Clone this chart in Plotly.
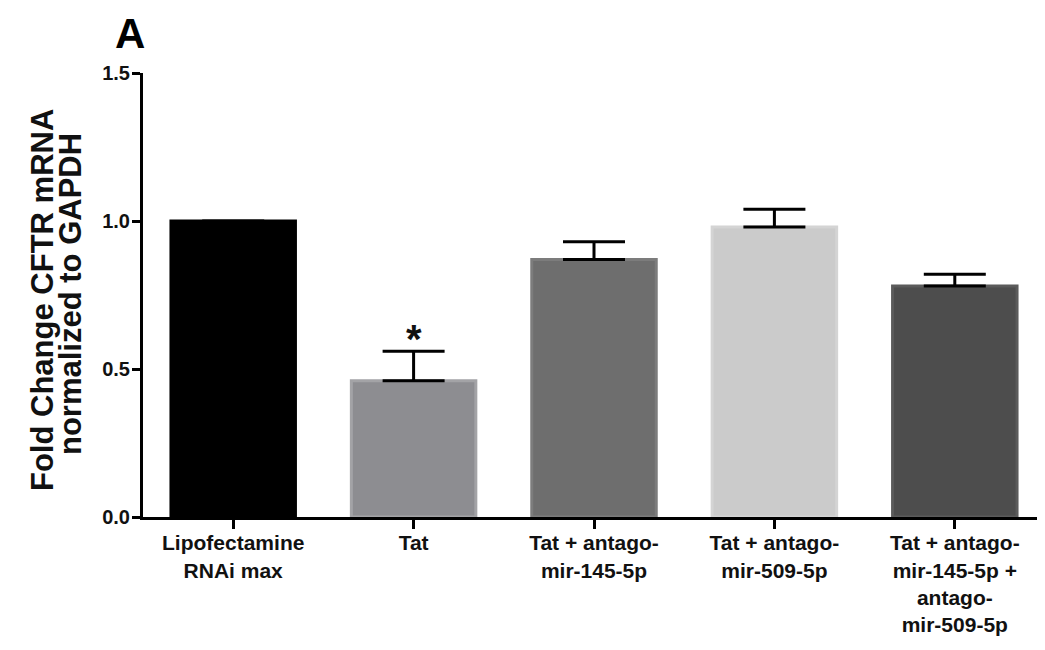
import plotly.graph_objects as go

categories = ["Lipofectamine<br>RNAi max", "Tat", "Tat + antago-<br>mir-145-5p",
              "Tat + antago-<br>mir-509-5p", "Tat + antago-<br>mir-145-5p +<br>antago-<br>mir-509-5p"]
values = [1.00, 0.46, 0.87, 0.98, 0.78]
errors = [0.0, 0.10, 0.06, 0.06, 0.04]
fill_colors = ["#000000", "#8d8d91", "#6e6e6e", "#cbcbcb", "#4d4d4d"]
edge_colors = ["#000000", "#a3a3a6", "#7c7c7c", "#d4d4d4", "#5b5b5b"]
y_ticks = [0, 0.5, 1.0, 1.5]
y_tick_labels = ["0.0", "0.5", "1.0", "1.5"]
y_title_lines = ["Fold Change CFTR mRNA", "normalized to GAPDH"]
star_label = "*"
star_index = 1
star_y = 0.60
panel_label = "A"

# page has an 8px body margin; figure is sized to fit the 1045x650 window
OFF = 8
W, H = 1045 - OFF, 650 - OFF
L, R, T, B = 143 - OFF, 0, 73 - OFF, 133
pw = W - L - R
ph = H - T - B

fig = go.Figure()
fig.add_trace(go.Bar(
    x=list(range(len(categories))), y=values, width=0.69,
    marker=dict(color=fill_colors, line=dict(color=edge_colors, width=3)),
    error_y=dict(type="data", symmetric=False, array=errors, arrayminus=[0] * len(errors),
                 color="#000000", thickness=3, width=31, visible=True),
    showlegend=False,
))

bold = "Liberation Sans, Arial, sans-serif"
narrow = "Liberation Sans Narrow, Arial Narrow, Liberation Sans, Arial, sans-serif"

fig.update_layout(
    width=W, height=H,
    margin=dict(l=L, r=R, t=T, b=B, pad=0),
    paper_bgcolor="white", plot_bgcolor="white",
    xaxis=dict(
        range=[-0.5, len(categories) - 0.5],
        tickmode="array", tickvals=list(range(len(categories))), ticktext=categories,
        showline=True, linecolor="black", linewidth=3,
        ticks="outside", ticklen=9, tickwidth=3, tickcolor="black",
        ticklabelstandoff=-4,
        showgrid=False, zeroline=False,
        tickfont=dict(family=narrow, size=21, color="#111111", weight="bold"),
        tickangle=0,
    ),
    yaxis=dict(
        range=[0, 1.5],
        tickmode="array", tickvals=y_ticks, ticktext=y_tick_labels,
        showline=True, linecolor="black", linewidth=3,
        ticks="outside", ticklen=8, tickwidth=3, tickcolor="black",
        ticklabelstandoff=-2,
        showgrid=False, zeroline=False,
        tickfont=dict(family=bold, size=20, color="#111111", weight="bold"),
    ),
)

# star
fig.add_annotation(x=star_index, y=star_y, text=star_label, showarrow=False,
                   xref="x", yref="y", yanchor="middle",
                   font=dict(family=bold, size=40, color="#111111", weight="bold"))

# panel label
fig.add_annotation(x=(130 - 143) / pw, y=(517 - 33) / ph, xref="paper", yref="paper",
                   text=panel_label, showarrow=False, xanchor="center", yanchor="middle",
                   font=dict(family=bold, size=42, color="#000000", weight="bold"))

# y title lines
for px, py, line in zip([42, 70], [300, 294], y_title_lines):
    fig.add_annotation(x=(px - 143) / pw, y=(517 - py) / ph, xref="paper", yref="paper",
                       text=line, showarrow=False, textangle=-90,
                       xanchor="center", yanchor="middle",
                       font=dict(family=bold, size=31, color="#111111", weight="bold"))

fig.write_html("out.html")
